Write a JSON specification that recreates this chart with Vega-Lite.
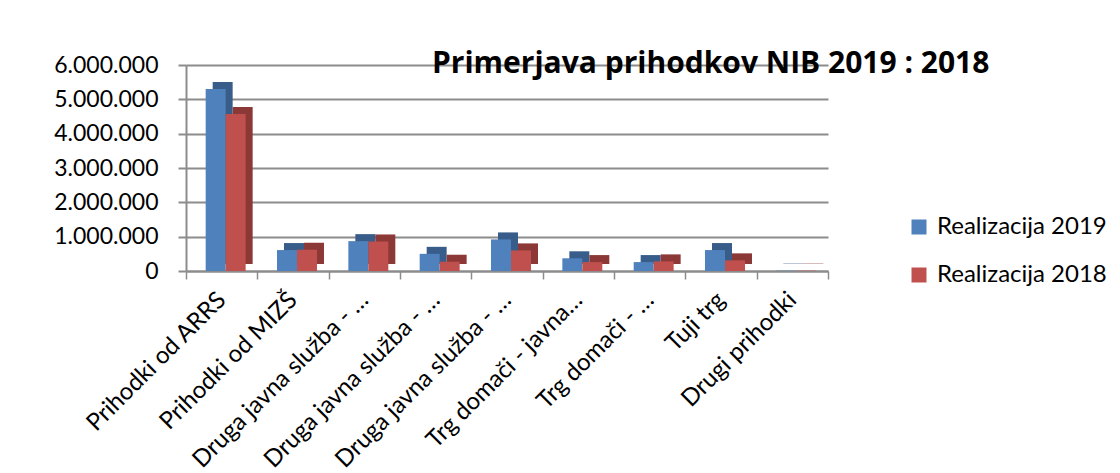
{
  "$schema": "https://vega.github.io/schema/vega-lite/v6.json",
  "width": 642,
  "height": 206,
  "autosize": {"type": "none"},
  "padding": {"left": 186, "top": 65, "right": 292, "bottom": 202},
  "background": "white",
  "title": {
    "text": "Primerjava prihodkov NIB 2019 : 2018",
    "anchor": "start",
    "frame": "group",
    "font": "Open Sans",
    "fontSize": 30,
    "fontWeight": "bold",
    "color": "black",
    "dx": 246,
    "dy": 29
  },
  "data": {
    "values": [
      {"k": "Prihodki od ARRS|1", "s": "Realizacija 2019", "v": 5300000},
      {"k": "Prihodki od ARRS|1", "s": "Realizacija 2018", "v": 4570000},
      {"k": "Prihodki od MIZŠ|2", "s": "Realizacija 2019", "v": 610000},
      {"k": "Prihodki od MIZŠ|2", "s": "Realizacija 2018", "v": 620000},
      {"k": "Druga javna služba - …|3", "s": "Realizacija 2019", "v": 870000},
      {"k": "Druga javna služba - …|3", "s": "Realizacija 2018", "v": 860000},
      {"k": "Druga javna služba - …|4", "s": "Realizacija 2019", "v": 500000},
      {"k": "Druga javna služba - …|4", "s": "Realizacija 2018", "v": 270000},
      {"k": "Druga javna služba - …|5", "s": "Realizacija 2019", "v": 920000},
      {"k": "Druga javna služba - …|5", "s": "Realizacija 2018", "v": 600000},
      {"k": "Trg domači - javna…|6", "s": "Realizacija 2019", "v": 370000},
      {"k": "Trg domači - javna…|6", "s": "Realizacija 2018", "v": 260000},
      {"k": "Trg domači - …|7", "s": "Realizacija 2019", "v": 260000},
      {"k": "Trg domači - …|7", "s": "Realizacija 2018", "v": 280000},
      {"k": "Tuji trg|8", "s": "Realizacija 2019", "v": 610000},
      {"k": "Tuji trg|8", "s": "Realizacija 2018", "v": 310000},
      {"k": "Drugi prihodki|9", "s": "Realizacija 2019", "v": 10000},
      {"k": "Drugi prihodki|9", "s": "Realizacija 2018", "v": 10000}
    ]
  },
  "encoding": {
    "x": {
      "field": "k",
      "type": "nominal",
      "sort": null,
      "scale": {"paddingInner": 0, "paddingOuter": 0},
      "axis": {
        "title": null,
        "labelAngle": -45,
        "labelAlign": "right",
        "labelBaseline": "middle",
        "labelExpr": "split(datum.label, '|')[0]",
        "labelFont": "Lato",
        "labelFontSize": 24,
        "labelColor": "black",
        "labelPadding": 17,
        "domainColor": "#8c8c8c",
        "domainWidth": 2,
        "tickColor": "#8c8c8c",
        "tickWidth": 1.5,
        "tickSize": 8,
        "tickBand": "extent",
        "labelLimit": 300
      }
    },
    "y": {
      "field": "v",
      "type": "quantitative",
      "scale": {"domain": [0, 6000000]},
      "axis": {
        "title": null,
        "values": [0, 1000000, 2000000, 3000000, 4000000, 5000000, 6000000],
        "labelExpr": "replace(format(datum.value, ','), regexp(',', 'g'), '.')",
        "labelFont": "Lato",
        "labelFontSize": 23,
        "labelColor": "black",
        "labelPadding": 20,
        "gridColor": "#8c8c8c",
        "gridWidth": 2,
        "domainColor": "#8c8c8c",
        "domainWidth": 2,
        "tickColor": "#8c8c8c",
        "tickWidth": 2,
        "tickSize": 8
      }
    }
  },
  "layer": [
    {
      "transform": [{"filter": "datum.s == 'Realizacija 2019'"}],
      "mark": {"type": "bar", "width": {"band": 0.28}, "xOffset": 1, "yOffset": -7, "y2Offset": -7, "color": "#385D8A"}
    },
    {
      "transform": [{"filter": "datum.s == 'Realizacija 2019'"}],
      "mark": {"type": "bar", "width": {"band": 0.28}, "xOffset": -6},
      "encoding": {
        "color": {
          "field": "s",
          "type": "nominal",
          "scale": {"domain": ["Realizacija 2019", "Realizacija 2018"], "range": ["#4F81BD", "#C0504D"]},
          "legend": {
            "title": null,
            "orient": "none",
            "legendX": 721,
            "legendY": 150,
            "symbolType": "square",
            "symbolSize": 225,
            "symbolStrokeWidth": 0,
            "labelFont": "Lato",
            "labelFontSize": 24,
            "labelColor": "black",
            "labelLimit": 300,
            "rowPadding": 24,
            "labelOffset": 6
          }
        }
      }
    },
    {
      "transform": [{"filter": "datum.s == 'Realizacija 2018'"}],
      "mark": {"type": "bar", "width": {"band": 0.28}, "xOffset": 21, "yOffset": -7, "y2Offset": -7, "color": "#8C3836"}
    },
    {
      "transform": [{"filter": "datum.s == 'Realizacija 2018'"}],
      "mark": {"type": "bar", "width": {"band": 0.28}, "xOffset": 14},
      "encoding": {
        "color": {
          "field": "s",
          "type": "nominal",
          "scale": {"domain": ["Realizacija 2019", "Realizacija 2018"], "range": ["#4F81BD", "#C0504D"]}
        }
      }
    }
  ],
  "config": {"view": {"stroke": null}}
}
